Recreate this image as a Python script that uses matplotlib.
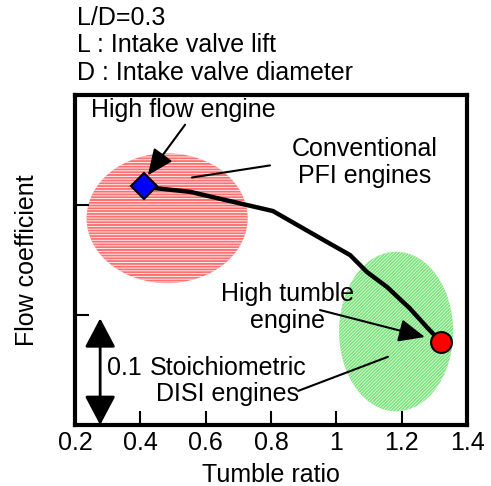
import matplotlib
matplotlib.use("Agg")
import matplotlib.pyplot as plt
from matplotlib.patches import Ellipse

plt.rcParams["font.family"] = ["Liberation Sans", "DejaVu Sans"]
plt.rcParams["hatch.color"] = "white"

FS = 18

# engine operating points (tumble ratio, flow coefficient)
high_flow = (0.41, 0.417)
high_tumble = (1.32, 0.2755)

# trend curve from the high-flow to the high-tumble engine
curve_x = [0.41, 0.439, 0.552, 0.806, 0.950, 1.042, 1.094, 1.155, 1.225, 1.277, 1.32]
curve_y = [0.417, 0.4155, 0.412, 0.3945, 0.370, 0.3545, 0.339, 0.3255, 0.306, 0.289, 0.2755]

# scatter regions: center, width, height
pfi_region = ((0.482, 0.388), 0.493, 0.118)
disi_region = ((1.183, 0.285), 0.349, 0.145)

x_ticks = [0.2, 0.4, 0.6, 0.8, 1.0, 1.2, 1.4]
x_tick_labels = ["0.2", "0.4", "0.6", "0.8", "1", "1.2", "1.4"]
y_ticks = [0.3, 0.4]

fig = plt.figure(figsize=(4.91, 4.86), dpi=100)
ax = fig.add_axes([75 / 491, 1 - 425 / 486, 392 / 491, 330 / 486])

plt.rcParams["hatch.linewidth"] = 0.6
ax.add_patch(Ellipse(pfi_region[0], pfi_region[1], pfi_region[2],
                     facecolor="#ff7070", hatch="------", lw=0, zorder=1))
plt.rcParams["hatch.linewidth"] = 0.45
ax.add_patch(Ellipse(disi_region[0], disi_region[1], disi_region[2],
                     facecolor="#78e478", hatch="//////////", lw=0, zorder=1))

ax.plot(curve_x, curve_y, color="black", lw=3.2, zorder=3,
        solid_capstyle="round", solid_joinstyle="round")
ax.plot(*high_flow, marker="D", ms=13, mfc="#0000ff", mec="black", mew=1.5, zorder=5)
ax.plot(*high_tumble, marker="o", ms=15, mfc="#ff0000", mec="black", mew=1.5, zorder=5)

arrow_big = dict(arrowstyle="-|>,head_length=1.6,head_width=0.7", color="black",
                 lw=1.5, mutation_scale=10, shrinkA=0, shrinkB=0)
ax.text(0.531, 0.486, "High flow engine", fontsize=FS, ha="center", va="center")
ax.annotate("", xy=(0.423, 0.427), xytext=(0.537, 0.473), arrowprops=arrow_big)

ax.annotate("", xy=(0.558, 0.425), xytext=(0.797, 0.436),
            arrowprops=dict(arrowstyle="-", color="black", lw=1.5, shrinkA=0, shrinkB=0))
ax.text(1.088, 0.439, "Conventional\nPFI engines", fontsize=FS, ha="center",
        va="center", linespacing=1.15)

ax.annotate("", xy=(1.271, 0.28), xytext=(0.95, 0.3045), arrowprops=arrow_big)
ax.text(0.852, 0.307, "High tumble\nengine", fontsize=FS, ha="center",
        va="center", linespacing=1.15)

ax.annotate("", xy=(1.158, 0.262), xytext=(0.883, 0.231),
            arrowprops=dict(arrowstyle="-", color="black", lw=1.5, shrinkA=0, shrinkB=0))
ax.text(0.668, 0.24, "Stoichiometric\nDISI engines", fontsize=FS, ha="center",
        va="center", linespacing=1.1)

# scale bar for 0.1 flow coefficient
ax.annotate("", xy=(0.277, 0.297), xytext=(0.277, 0.2),
            arrowprops=dict(arrowstyle="<|-|>,head_length=1.8,head_width=0.95",
                            mutation_scale=10, color="black", lw=2,
                            shrinkA=0, shrinkB=0))
ax.text(0.35, 0.252, "0.1", fontsize=FS, ha="center", va="center")

ax.set_xlim(0.2, 1.4)
ax.set_ylim(0.2, 0.5)
ax.set_xticks(x_ticks)
ax.set_xticklabels(x_tick_labels, fontsize=FS)
ax.set_yticks(y_ticks)
ax.set_yticklabels([])
ax.tick_params(direction="in", length=10, width=1.5, pad=4)
for sp in ax.spines.values():
    sp.set_linewidth(3)
ax.set_xlabel("Tumble ratio", fontsize=FS, labelpad=6)
ax.set_ylabel("Flow coefficient", fontsize=FS, labelpad=22)

fig.text(77 / 491, 1 - 18 / 486, "L/D=0.3", fontsize=FS, va="center")
fig.text(77 / 491, 1 - 45 / 486, "L : Intake valve lift", fontsize=FS, va="center")
fig.text(77 / 491, 1 - 73 / 486, "D : Intake valve diameter", fontsize=FS, va="center")

fig.savefig("out.png", dpi=100)
